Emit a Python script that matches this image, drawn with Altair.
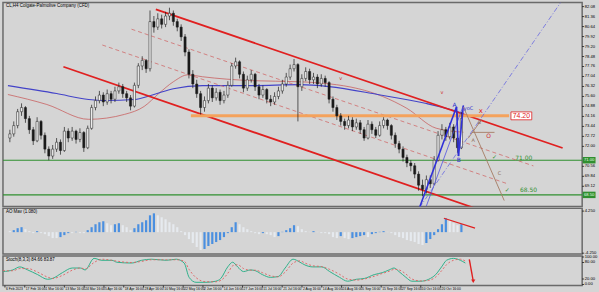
import altair as alt
import pandas as pd

# ---------------- data ----------------
title_text = "CL,H4  Colgate-Palmolive Company (CFD)"

closes = [
    72.9, 73.5, 74.5, 74.8, 74.0, 73.2, 72.4, 73.8, 72.8, 71.8,
    71.3, 71.8, 72.3, 71.7, 73.1, 72.6, 73.1, 72.5, 73.0, 71.9,
    73.3, 74.8, 75.3, 75.7, 75.2, 75.8, 75.4, 76.0, 76.3, 75.8,
    75.5, 74.9, 76.4, 77.8, 78.2, 77.6, 81.0, 80.6, 81.2, 80.8,
    81.4, 81.6, 81.0, 80.6, 79.9, 78.8, 77.2, 76.5, 75.8, 74.8,
    75.3, 76.2, 75.5, 75.9, 75.3, 75.7, 76.4, 77.8, 78.1, 77.2,
    76.2, 76.8, 77.2, 76.3, 75.7, 76.1, 75.4, 75.2, 75.6, 76.0,
    76.5, 77.0, 77.6, 77.9, 76.3, 76.9, 77.4, 76.8, 77.0, 76.5,
    76.9, 76.6, 75.4, 74.8, 74.2, 73.8, 73.5, 73.9, 73.4, 73.7,
    73.2, 72.6, 73.6, 73.2, 72.8, 73.5, 73.9, 73.5, 72.8, 72.2,
    71.8, 71.2, 70.8, 70.6, 70.0, 69.2, 68.9, 69.6, 69.3, 71.0,
    72.8, 73.2, 72.7, 73.4, 72.6, 71.9, 74.0]
highs = [
    73.2, 73.8, 74.7, 75.1, 74.9, 74.2, 73.4, 74.1, 73.9, 73.0,
    72.0, 72.1, 72.6, 72.5, 73.4, 73.3, 73.4, 73.2, 73.3, 73.1,
    73.5, 75.0, 75.6, 76.0, 75.9, 76.1, 76.0, 76.3, 76.6, 76.5,
    76.0, 75.7, 76.6, 78.0, 78.5, 78.3, 81.8, 81.4, 81.6, 81.5,
    81.7, 82.0, 81.8, 81.2, 80.8, 80.1, 79.0, 77.5, 76.8, 76.0,
    75.6, 76.5, 76.4, 76.2, 76.1, 76.0, 76.7, 78.0, 78.4, 78.2,
    77.4, 77.1, 77.5, 77.3, 76.5, 76.4, 76.2, 75.7, 75.9, 76.3,
    76.8, 77.3, 77.9, 78.3, 78.0, 77.2, 77.7, 77.6, 77.3, 77.2,
    77.2, 77.1, 76.7, 75.6, 75.0, 74.4, 74.0, 74.2, 74.1, 74.0,
    73.9, 73.4, 73.9, 73.8, 73.4, 73.8, 74.1, 74.0, 73.6, 73.0,
    72.4, 72.0, 71.4, 71.0, 70.8, 70.2, 69.6, 69.9, 69.9, 71.3,
    73.1, 73.6, 73.4, 73.7, 73.6, 74.4, 74.5]
lows = [
    72.3, 72.7, 73.3, 74.2, 73.7, 72.9, 72.1, 72.3, 72.5, 71.5,
    71.0, 71.1, 71.6, 71.4, 71.6, 72.3, 72.4, 72.2, 72.3, 71.6,
    71.8, 73.2, 74.6, 75.1, 74.9, 75.0, 75.1, 75.2, 75.8, 75.5,
    75.2, 74.6, 74.8, 76.2, 77.5, 77.3, 77.4, 80.2, 80.4, 80.5,
    80.6, 81.1, 80.7, 80.3, 79.6, 78.5, 76.9, 76.2, 75.5, 74.3,
    74.5, 75.1, 75.2, 75.3, 75.0, 75.1, 75.5, 76.3, 77.6, 76.9,
    75.9, 76.0, 76.6, 76.0, 75.4, 75.5, 75.1, 74.9, 75.0, 75.4,
    75.8, 76.3, 76.8, 77.4, 73.8, 76.0, 76.7, 76.5, 76.5, 76.2,
    76.3, 76.3, 75.1, 74.5, 73.9, 73.5, 73.2, 73.3, 73.1, 73.2,
    72.9, 72.4, 72.5, 72.9, 72.6, 72.7, 73.3, 73.2, 72.5, 71.9,
    71.5, 70.9, 70.5, 70.2, 69.7, 68.8, 68.4, 68.6, 69.0, 69.2,
    70.9, 72.5, 72.4, 72.5, 72.3, 71.5, 71.8]
first_open = 72.6

blue_ma_bar = [-0.5, 12, 20.25, 24.5, 32, 37, 42, 49.5, 62, 74.5, 82, 94.5, 107, 113.25, 116.5]
blue_ma_val = [76.38, 75.81, 75.38, 75.31, 75.38, 75.74, 76.16, 76.38, 76.38, 76.45, 76.31, 75.74, 75.09, 74.66, 74.38]
red_ma_bar = [-0.5, 9.5, 20.25, 29.5, 34.5, 38.25, 42, 45.75, 49.5, 62, 74.5, 89.5, 102, 109.5, 116.5]
red_ma_val = [75.74, 75.02, 73.95, 74.31, 74.88, 75.81, 76.66, 77.16, 77.02, 76.74, 76.66, 76.16, 74.74, 73.31, 73.02]

red_channel = [[(37.5, 81.88), (142.0, 71.88)], [(13.75, 77.74), (119.0, 67.59)]]
red_dashed = [[(31.25, 80.45), (134.5, 70.59)], [(23.75, 79.31), (127.75, 69.31)]]
blue_thick = [[(105.25, 67.59), (114.75, 74.85)], [(114.75, 74.85), (115.25, 71.3)],
              [(115.25, 71.3), (116.5, 74.95)]]
blue_thin = [[(107.0, 67.7), (116.5, 74.95)]]
blue_dashdot = [[(105.25, 67.59), (141.5, 82.38)]]
brown_lines = [[(116.5, 74.85), (127.0, 68.09)], [(117.75, 72.59), (121.25, 73.95)],
               [(118.7, 73.01), (124.5, 73.01)]]
orange_level = 74.20
orange_span = [46.5, 128.25]
green_levels = [71.00, 68.50]

annotations = [
    ("A", 114.25, 75.0, "#3030d0", 6), ("yoC", 117.8, 74.75, "#3030d0", 5),
    ("B", 115.3, 71.05, "#3030d0", 6), ("A", 119.0, 72.45, "#8a6a55", 5),
    ("B", 120.6, 73.75, "#8a6a55", 5), ("O", 123.0, 72.75, "#d03030", 6),
    ("C", 125.75, 70.1, "#8a6a55", 5), ("x", 121.0, 74.55, "#e02020", 7),
    ("\u2713", 124.5, 71.25, "#2f8f2f", 6), ("\u2713", 127.75, 68.85, "#2f8f2f", 6),
    ("71.00", 132.0, 71.17, "#2f8f2f", 6), ("68.50", 133.25, 68.82, "#2f8f2f", 6),
    ("v", 85.0, 76.9, "#d03030", 5), ("v", 111.0, 75.9, "#d03030", 5),
]

price_ticks = [82.08, 81.36, 80.64, 79.92, 79.20, 78.48, 77.76, 77.04, 76.32, 75.60,
               74.88, 74.16, 73.44, 72.72, 72.00, 70.56, 69.84, 69.12]

ao_values = [
    0.2, 0.4, 0.8, 1.0, 0.6, 0.2, -0.2, 0.2, -0.2, -0.4,
    -0.8, -1.2, -1.2, -1.0, -0.6, -0.2, -0.2, 0.06, -0.2, -0.2,
    0.4, 1.0, 1.6, 2.0, 2.2, 1.8, 1.4, 1.6, 1.8, 1.4,
    1.0, 0.4, 0.8, 1.6, 2.0, 2.4, 3.4, 3.8, 3.4, 3.0,
    2.6, 2.0, 1.6, 1.0, 0.2, -0.6, -1.4, -2.2, -3.0, -3.6,
    -3.4, -2.8, -2.4, -2.0, -1.6, -1.0, -0.2, 1.0, 2.0, 1.6,
    1.0, 0.6, 0.2, -0.2, -0.4, -0.2, -0.4, -0.6, -1.0, -0.8,
    0.06, 0.4, 0.8, 1.4, 1.2, 0.6, 0.2, 0.06, 0.2, 0.06,
    -0.2, -0.2, -0.4, -1.0, -1.2, -0.8, -1.2, -1.4, -1.2, -1.0,
    -0.8, -0.6, -1.0, -0.4, -0.2, 0.06, 0.2, 0.06, -0.2, -0.6,
    -1.0, -1.2, -1.6, -1.8, -2.0, -2.4, -2.6, -2.2, -1.4, -0.6,
    0.6, 1.6, 2.8, 2.4, 1.8, 1.4, 1.6]
ao_label = "AO Mav (1.080)"
ao_ticks = [4.25, -4.25]
ao_red_line = [[(111.5, 2.8), (119.5, 0.8)]]

stoch_bar = [-0.5, 2, 3.75, 5.75, 8.25, 10.75, 12, 14.5, 17, 19, 20.25, 22.5, 24.5, 27, 28.25,
             32, 34.5, 37, 40.75, 43.25, 45.25, 46.5, 48.25, 50.75, 53.25, 54.5, 56.25, 57.5,
             58.75, 60.25, 62, 63.25, 65, 67, 69, 70.75, 72.75, 74.5, 75.75, 77.75, 80, 82,
             84.5, 86.5, 88.75, 90.75, 93.25, 95.25, 97, 98.25, 99.5, 101.25, 102.75, 105,
             107, 108.75, 110.25, 111.5, 113.25, 115, 116.25]
stoch_main = [47, 53, 64, 53, 36, 19, 22, 43, 60, 60, 53, 95, 88, 88, 81, 78, 88, 92, 88, 92,
              78, 26, 8, 8, 12, 22, 64, 81, 64, 47, 53, 50, 36, 26, 29, 60, 92, 81, 71, 64,
              64, 47, 26, 12, 19, 22, 36, 43, 53, 60, 47, 26, 12, 12, 19, 36, 64, 88, 95, 88, 78]
stoch_signal = [50, 50, 58, 58, 45, 27, 22, 33, 52, 60, 57, 80, 92, 88, 85, 80, 84, 90, 90, 90,
                85, 55, 25, 10, 10, 15, 40, 68, 72, 58, 52, 52, 43, 32, 28, 45, 78, 86, 78, 68,
                65, 55, 37, 20, 16, 20, 30, 40, 48, 55, 53, 38, 20, 13, 15, 27, 50, 72, 88, 92, 85]
stoch_label = "Stoch(8,3,3) 84.66 83.87"
stoch_ticks = [100, 80, 20, 0]
stoch_arrow = [[(117.25, 91.7), (118.25, 12.0)]]

date_labels = ["6 Feb 2023", "17 Feb 16:00", "1 Mar 16:00", "13 Mar 16:00", "24 Mar 16:00",
               "5 Apr 16:00", "18 Apr 16:00", "28 Apr 16:00", "10 May 16:00", "22 May 16:00",
               "2 Jun 16:00", "14 Jun 16:00", "27 Jun 16:00", "11 Jul 16:00", "21 Jul 16:00",
               "2 Aug 16:00", "14 Aug 16:00", "24 Aug 16:00", "5 Sep 16:00", "15 Sep 16:00",
               "27 Sep 16:00", "10 Oct 16:00", "20 Oct 16:00"]
date_ticks = [5 * i for i in range(len(date_labels))]

# ---------------- styling ----------------
BG = "#d5d5d5"
W = 585
H_MAIN, H_AO, H_ST = 206, 46, 30
XS = alt.Scale(domain=[-0.5, 145.75], nice=False, zero=False)
YP = alt.Scale(domain=[67.67, 82.38], nice=False, zero=False)
YA = alt.Scale(domain=[-4.4, 4.8], nice=False, zero=False)
YS = alt.Scale(domain=[-4, 104], nice=False, zero=False)
FONT = "Liberation Sans"
RECT_PATH = "M-1,-0.5L1,-0.5L1,0.5L-1,0.5Z"


def seg_df(segs):
    rows = []
    for i, s in enumerate(segs):
        for b, p in s:
            rows.append({"seg": i, "bar": b, "val": p})
    return pd.DataFrame(rows)


def seg_layer(segs, yscale, **mark):
    return alt.Chart(seg_df(segs)).mark_line(clip=True, **mark).encode(
        x=alt.X("bar:Q", scale=XS, axis=None),
        y=alt.Y("val:Q", scale=yscale, axis=None),
        detail="seg:N",
    )


def right_axis(values, yscale, fmt):
    """Tick marks and labels on the right edge of a panel, positioned by the y scale."""
    df = pd.DataFrame({"val": values, "label": [format(v, fmt) for v in values]})
    ticks = alt.Chart(df).mark_rule(color="#000000", strokeWidth=0.7).encode(
        x=alt.value(W), x2=alt.value(W + 2), y=alt.Y("val:Q", scale=yscale, axis=None))
    labels = alt.Chart(df).mark_text(align="left", baseline="middle", fontSize=4.2,
                                     font=FONT, color="#000000").encode(
        x=alt.value(W + 2.5), y=alt.Y("val:Q", scale=yscale, axis=None), text="label:N")
    return [ticks, labels]


def corner_text(text):
    return alt.Chart(pd.DataFrame({"t": [text]})).mark_text(
        align="left", baseline="middle", fontSize=4.5, font=FONT, color="#000000").encode(
        x=alt.value(3), y=alt.value(4), text="t:N")


# ---------------- main price panel ----------------
opens = [first_open] + closes[:-1]
candles = pd.DataFrame({"bar": list(range(len(closes))), "open": opens, "high": highs,
                        "low": lows, "close": closes})

wicks = alt.Chart(candles).mark_rule(color="#1a1a1a", strokeWidth=0.7).encode(
    x=alt.X("bar:Q", scale=XS, axis=None),
    y=alt.Y("low:Q", scale=YP, axis=None),
    y2="high:Q",
)
bodies = alt.Chart(candles).mark_bar(width=2.2, stroke="#1a1a1a", strokeWidth=0.5).encode(
    x=alt.X("bar:Q", scale=XS, axis=None),
    y=alt.Y("open:Q", scale=YP, axis=None),
    y2="close:Q",
    fill=alt.condition("datum.close >= datum.open", alt.value("#eeeeee"), alt.value("#1a1a1a")),
)

ma_blue = alt.Chart(pd.DataFrame({"bar": blue_ma_bar, "val": blue_ma_val})).mark_line(
    color="#4343c8", strokeWidth=1.1, interpolate="monotone", clip=True).encode(
    x=alt.X("bar:Q", scale=XS, axis=None), y=alt.Y("val:Q", scale=YP, axis=None))
ma_red = alt.Chart(pd.DataFrame({"bar": red_ma_bar, "val": red_ma_val})).mark_line(
    color="#c86060", strokeWidth=0.8, interpolate="monotone", clip=True).encode(
    x=alt.X("bar:Q", scale=XS, axis=None), y=alt.Y("val:Q", scale=YP, axis=None))

green_df = pd.DataFrame({"val": green_levels})
green_rules = alt.Chart(green_df).mark_rule(color="#2f8f2f", strokeWidth=1.2).encode(
    y=alt.Y("val:Q", scale=YP, axis=None))

orange = seg_layer([[(orange_span[0], orange_level), (orange_span[1], orange_level)]], YP,
                   color="#f4a25c", strokeWidth=3)
ch = seg_layer(red_channel, YP, color="#e02020", strokeWidth=1.8)
chd = seg_layer(red_dashed, YP, color="#d06a6a", strokeWidth=0.8, strokeDash=[4, 3])
bth = seg_layer(blue_thick, YP, color="#3030d8", strokeWidth=1.6)
btn = seg_layer(blue_thin, YP, color="#5050e0", strokeWidth=0.8)
bdd = seg_layer(blue_dashdot, YP, color="#6868e0", strokeWidth=0.8, strokeDash=[5, 2, 1, 2])
brn = seg_layer(brown_lines, YP, color="#a47a62", strokeWidth=0.9)

ann_df = pd.DataFrame(annotations, columns=["text", "bar", "val", "color", "size"])
ann = alt.Chart(ann_df).mark_text(font="DejaVu Sans", baseline="middle").encode(
    x=alt.X("bar:Q", scale=XS, axis=None), y=alt.Y("val:Q", scale=YP, axis=None),
    text="text:N", color=alt.Color("color:N", scale=None), size=alt.Size("size:Q", scale=None))

box_df = pd.DataFrame({"bar": [131.4], "val": [orange_level], "text": [f"{orange_level:.2f}"]})
box = alt.Chart(box_df).mark_point(shape="M-1,-0.38L1,-0.38L1,0.38L-1,0.38Z", size=441,
                                   filled=True, fill="#ffffff", stroke="#e02020",
                                   strokeWidth=0.8, opacity=1).encode(
    x=alt.X("bar:Q", scale=XS, axis=None), y=alt.Y("val:Q", scale=YP, axis=None))
box_txt = alt.Chart(box_df).mark_text(color="#e02020", fontSize=7, font=FONT).encode(
    x=alt.X("bar:Q", scale=XS, axis=None), y=alt.Y("val:Q", scale=YP, axis=None), text="text:N")

gbox_df = pd.DataFrame({"val": green_levels, "text": [f"{v:.2f}" for v in green_levels]})
gbox = alt.Chart(gbox_df).mark_point(shape=RECT_PATH, size=169, filled=True,
                                     color="#2f8f2f", opacity=1).encode(
    x=alt.value(592), y=alt.Y("val:Q", scale=YP, axis=None))
gbox_txt = alt.Chart(gbox_df).mark_text(color="#e8ffe8", fontSize=4.2, font=FONT).encode(
    x=alt.value(592), y=alt.Y("val:Q", scale=YP, axis=None), text="text:N")

main = alt.layer(green_rules, ma_red, ma_blue, chd, ch, orange, wicks, bodies, bdd, btn, bth,
                 brn, ann, box, box_txt, *right_axis(price_ticks, YP, ".2f"), gbox, gbox_txt,
                 corner_text(title_text)).properties(width=W, height=H_MAIN)

# ---------------- AO panel ----------------
ao_rising = [i > 0 and ao_values[i] > ao_values[i - 1] for i in range(len(ao_values))]
ao_df = pd.DataFrame({"bar": list(range(len(ao_values))), "ao": ao_values, "rising": ao_rising})
ao_bars = alt.Chart(ao_df).mark_bar(width=2.2).encode(
    x=alt.X("bar:Q", scale=XS, axis=None),
    y=alt.Y("ao:Q", scale=YA, axis=None),
    y2=alt.datum(0),
    color=alt.condition("datum.rising", alt.value("#4a8fe0"), alt.value("#e6eaef")),
)
ao_line = seg_layer(ao_red_line, YA, color="#e02020", strokeWidth=1.2)
ao = alt.layer(ao_bars, ao_line, *right_axis(ao_ticks, YA, ".3f"),
               corner_text(ao_label)).properties(width=W, height=H_AO)

# ---------------- Stochastic panel ----------------
st_df = pd.DataFrame({"bar": stoch_bar, "main": stoch_main, "signal": stoch_signal})
st_main = alt.Chart(st_df).mark_line(color="#2fb08a", strokeWidth=1, interpolate="monotone").encode(
    x=alt.X("bar:Q", scale=XS, axis=None), y=alt.Y("main:Q", scale=YS, axis=None))
st_sig = alt.Chart(st_df).mark_line(color="#e06060", strokeWidth=0.9, strokeDash=[2, 2],
                                    interpolate="monotone").encode(
    x=alt.X("bar:Q", scale=XS, axis=None), y=alt.Y("signal:Q", scale=YS, axis=None))
arrow = seg_layer(stoch_arrow, YS, color="#e02020", strokeWidth=1.4)
arrow_head = alt.Chart(pd.DataFrame({"bar": [stoch_arrow[0][1][0]], "val": [stoch_arrow[0][1][1]]})).mark_point(
    shape="triangle-down", size=18, filled=True, color="#e02020", opacity=1).encode(
    x=alt.X("bar:Q", scale=XS, axis=None), y=alt.Y("val:Q", scale=YS, axis=None))
dates_df = pd.DataFrame({"bar": date_ticks, "label": date_labels})
date_ticks_m = alt.Chart(dates_df).mark_rule(color="#000000", strokeWidth=0.7).encode(
    x=alt.X("bar:Q", scale=XS, axis=None), y=alt.value(H_ST), y2=alt.value(H_ST + 2))
date_txt = alt.Chart(dates_df).mark_text(
    align="left", baseline="top", fontSize=3.4, font=FONT, color="#000000", dx=1).encode(
    x=alt.X("bar:Q", scale=XS, axis=None), y=alt.value(H_ST + 1.5), text="label:N")
stoch = alt.layer(st_main, st_sig, arrow, arrow_head, *right_axis(stoch_ticks, YS, ".2f"),
                  date_ticks_m, date_txt, corner_text(stoch_label)).properties(
    width=W, height=H_ST)

chart = alt.vconcat(main, ao, stoch, spacing=2, bounds="flush").properties(
    background=BG, padding={"left": 0, "right": 0, "top": 0, "bottom": 0}
).configure_view(stroke="#6a6a6a", strokeWidth=1.5, fill=BG)

chart.save("out.html", embed_options={"renderer": "svg", "actions": False})
